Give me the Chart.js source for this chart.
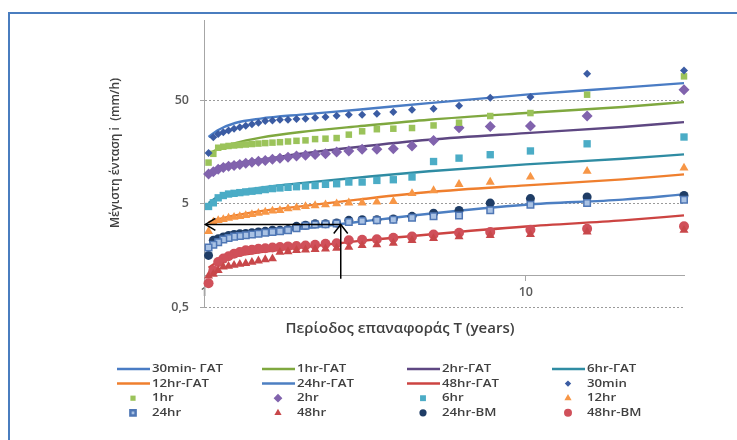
<!DOCTYPE html>
<html>
<head>
<meta charset="utf-8">
<script src="https://cdn.jsdelivr.net/npm/chart.js@4.4.1/dist/chart.umd.min.js"></script>
<style>
  html, body { margin: 0; padding: 0; background: #ffffff; }
  #wrap { position: relative; width: 737px; height: 440px; overflow: hidden; }
  #frame { position: absolute; left: 8px; top: 12px; width: 780px; height: 480px; border: 2px solid #4a7dbf; }
  #c { position: absolute; left: 0; top: 0; }
</style>
</head>
<body>
<div id="wrap">
  <div id="frame"></div>
  <canvas id="c" width="737" height="440"></canvas>
</div>
<script>
// Return periods T (years) of the ranked annual maxima, largest first
const returnPeriod = [31, 15.5, 10.333, 7.75, 6.2, 5.167, 4.429, 3.875, 3.444, 3.1,
  2.818, 2.583, 2.385, 2.214, 2.067, 1.938, 1.824, 1.722, 1.632, 1.55,
  1.476, 1.409, 1.348, 1.292, 1.24, 1.192, 1.148, 1.107, 1.069, 1.033];

// Observed maximum intensities (mm/h) for each duration
const i30min = [97.6, 90.7, 53.8, 53.0, 44.4, 41.6, 40.5, 38.5, 37.2, 36.4,
  36.4, 35.6, 34.5, 34.0, 33.2, 33.0, 32.5, 32.5, 32.0, 31.5,
  30.3, 29.3, 28.4, 27.5, 26.5, 25.6, 24.6, 23.6, 22.0, 15.5];
const i1hr = [85.4, 56.8, 37.7, 35.3, 30.4, 28.6, 27.0, 26.6, 26.3, 25.1,
  23.3, 21.6, 21.3, 21.1, 20.5, 20.3, 20.0, 19.7, 19.5, 19.3,
  19.1, 18.9, 18.7, 18.5, 18.3, 18.1, 17.8, 17.4, 15.2, 12.5];
const i2hr = [63.5, 35.3, 28.2, 28.0, 27.2, 20.5, 18.1, 17.0, 16.8, 16.8,
  16.2, 15.8, 15.2, 15.0, 14.7, 14.5, 14.1, 13.8, 13.5, 13.1,
  12.9, 12.6, 12.3, 12.0, 11.7, 11.5, 11.2, 10.8, 10.2, 9.7];
const i6hr = [22.1, 19.0, 16.2, 14.9, 13.8, 12.8, 9.06, 8.53, 8.4, 8.1,
  8.1, 7.8, 7.7, 7.5, 7.4, 7.3, 7.2, 7.1, 7.0, 6.85,
  6.7, 6.6, 6.5, 6.4, 6.3, 6.2, 6.0, 5.7, 5.1, 4.7];
const i12hr = [11.1, 10.3, 9.06, 8.1, 7.7, 6.7, 6.3, 5.27, 5.2, 5.1,
  5.1, 5.0, 4.9, 4.8, 4.7, 4.57, 4.47, 4.31, 4.25, 4.15,
  4.05, 3.94, 3.85, 3.77, 3.71, 3.63, 3.52, 3.45, 3.32, 2.7];
const i24hr = [5.47, 5.07, 4.89, 4.31, 3.85, 3.78, 3.65, 3.50, 3.45, 3.40,
  3.32, 3.22, 3.16, 3.14, 3.05, 2.90, 2.77, 2.70, 2.66, 2.62,
  2.56, 2.52, 2.48, 2.44, 2.40, 2.33, 2.25, 2.12, 2.0, 1.88];
const i48hr = [2.77, 2.66, 2.52, 2.46, 2.40, 2.31, 2.21, 2.07, 2.01, 1.97,
  1.90, 1.86, 1.83, 1.81, 1.79, 1.77, 1.72, 1.70, 1.47, 1.44,
  1.40, 1.36, 1.32, 1.30, 1.27, 1.24, 1.22, 1.13, 1.04, 1.00];
const i24hrBM = [6.0, 5.8, 5.6, 5.07, 4.3, 4.05, 3.77, 3.56, 3.50, 3.50,
  3.45, 3.26, 3.19, 3.19, 3.09, 3.02, 2.81, 2.77, 2.77, 2.70,
  2.66, 2.62, 2.58, 2.56, 2.52, 2.46, 2.38, 2.29, 2.21, 1.58];
const i48hrBM = [3.02, 2.86, 2.80, 2.66, 2.62, 2.52, 2.40, 2.34, 2.26, 2.24,
  2.21, 2.07, 2.05, 2.00, 1.97, 1.95, 1.93, 1.90, 1.88, 1.85,
  1.83, 1.79, 1.77, 1.70, 1.64, 1.55, 1.47, 1.36, 1.13, 0.85];

// Fitted ΓΑΤ curves, sampled along T
const fitT = [1.033, 1.1, 1.25, 1.5, 2, 3, 5, 10, 20, 31];
const fit30min = [22.1, 25.6, 30.2, 33.3, 36.4, 40.6, 47.0, 56.8, 66.4, 73.5];
const fit1hr = [15.2, 16.8, 19.3, 21.8, 24.7, 28.0, 32.5, 37.7, 43.1, 48.1];
const fit2hr = [9.8, 11.2, 12.3, 13.3, 15.2, 17.7, 20.8, 24.1, 27.6, 30.8];
const fit6hr = [5.07, 5.79, 6.48, 7.14, 7.91, 8.93, 10.3, 12.0, 13.6, 15.0];
const fit12hr = [3.3, 3.52, 3.85, 4.24, 4.71, 5.47, 6.48, 7.52, 8.6, 9.6];
const fit24hr = [1.90, 2.12, 2.41, 2.60, 2.86, 3.32, 4.0, 4.89, 5.47, 6.15];
const fit48hr = [1.20, 1.36, 1.55, 1.70, 1.88, 2.17, 2.52, 3.01, 3.45, 3.85];

// Axis ticks
const xTickValues = [1, 10];
const xTickLabels = ['1', '10'];
const yTickValues = [0.5, 5, 50];
const yTickLabels = ['0,5', '5', '50'];

// Guide arrows reading intensity for a given return period
const guideT = 2.66;
const guideI = 3.15;
const guideBaseI = 0.94;
const guideEndT = 1.01;

const xTitle = 'Περίοδος επαναφοράς T (years)';
const yTitle = 'Μέγιστη ένταση i  (mm/h)';

const FONT = '"Open Sans", "DejaVu Sans", sans-serif';
const TEXT = '#404040';
const pts = (xs, ys) => xs.map((x, k) => ({ x: x, y: ys[k] }));

function fitLine(label, ys, color) {
  return {
    label: label, data: pts(fitT, ys), showLine: true, borderColor: color,
    backgroundColor: color, borderWidth: 2.4, pointRadius: 0, pointHoverRadius: 0,
    cubicInterpolationMode: 'monotone', clip: false, order: 2, kind: 'line'
  };
}
function markers(label, ys, style, radius, fill, stroke, bw) {
  return {
    label: label, data: pts(returnPeriod, ys), showLine: false, pointStyle: style,
    pointRadius: radius, pointHoverRadius: radius, backgroundColor: fill,
    borderColor: stroke || fill, pointBorderWidth: bw || 0, borderWidth: bw || 0,
    clip: false, order: 1, kind: 'marker'
  };
}

const datasets = [
  fitLine('30min- ΓΑΤ', fit30min, '#4a7cc4'),
  fitLine('1hr-ΓΑΤ', fit1hr, '#7fa83f'),
  fitLine('2hr-ΓΑΤ', fit2hr, '#5e4782'),
  fitLine('6hr-ΓΑΤ', fit6hr, '#2f8ca3'),
  fitLine('12hr-ΓΑΤ', fit12hr, '#ef7f2e'),
  fitLine('24hr-ΓΑΤ', fit24hr, '#4d7fc2'),
  fitLine('48hr-ΓΑΤ', fit48hr, '#cc4442'),
  markers('30min', i30min, 'rectRot', 4, '#3b5ca3'),
  markers('1hr', i1hr, 'rect', 4.6, '#9bc35a'),
  markers('2hr', i2hr, 'rectRot', 5.5, '#8163ad'),
  markers('6hr', i6hr, 'rect', 5.2, '#4bacc6'),
  markers('12hr', i12hr, 'triangle', 5.2, '#f79646'),
  markers('24hr', i24hr, 'rect', 4.6, '#a9c2e4', '#4f77b5', 1.5),
  markers('48hr', i48hr, 'triangle', 5.2, '#c8474a'),
  markers('24hr-BM', i24hrBM, 'circle', 4.5, '#1f3d66'),
  markers('48hr-BM', i48hrBM, 'circle', 5, '#d0505a')
];

function arrowHead(ctx, tipX, tipY, dirX, dirY, len, half) {
  const bx = tipX - dirX * len, by = tipY - dirY * len;
  const nx = -dirY, ny = dirX;
  ctx.beginPath();
  ctx.moveTo(bx + nx * half, by + ny * half);
  ctx.lineTo(tipX, tipY);
  ctx.lineTo(bx - nx * half, by - ny * half);
  ctx.stroke();
}

const guideArrows = {
  id: 'guideArrows',
  afterDatasetsDraw(chart) {
    const { ctx, scales: { x, y } } = chart;
    const px = x.getPixelForValue(guideT);
    const py = y.getPixelForValue(guideI);
    const pyBase = y.getPixelForValue(guideBaseI);
    const pxEnd = x.getPixelForValue(guideEndT);
    ctx.save();
    ctx.strokeStyle = '#000000';
    ctx.lineWidth = 1.5;
    ctx.beginPath();
    ctx.moveTo(px, pyBase); ctx.lineTo(px, py);
    ctx.moveTo(px, py); ctx.lineTo(pxEnd, py);
    ctx.stroke();
    arrowHead(ctx, pxEnd, py, -1, 0, 10, 6);
    arrowHead(ctx, px, py, 0, -1, 9, 7);
    ctx.restore();
  }
};

// text drawn with a slight horizontal stretch
function wideText(ctx, str, x, y, sx) {
  ctx.save();
  ctx.translate(x, y);
  ctx.scale(sx, 1);
  ctx.fillText(str, 0, 0);
  ctx.restore();
}

const chartText = {
  id: 'chartText',
  afterDraw(chart) {
    const ctx = chart.ctx;
    ctx.save();
    ctx.fillStyle = TEXT;
    ctx.textBaseline = 'middle';
    ctx.textAlign = 'center';
    ctx.font = '600 14px ' + FONT;
    wideText(ctx, xTitle, 400, 329, 1.07);
    ctx.save();
    ctx.translate(116, 153);
    ctx.rotate(-Math.PI / 2);
    ctx.font = '600 12px ' + FONT;
    ctx.fillText(yTitle, 0, 0);
    ctx.restore();

    // legend: four columns, row-major in dataset order
    const colX = [117, 262, 407, 552];
    const rowY0 = 369, rowStep = 14.6;
    ctx.font = '600 11.5px ' + FONT;
    ctx.textAlign = 'left';
    chart.data.datasets.forEach((ds, k) => {
      const x0 = colX[k % 4];
      const yy = rowY0 + Math.floor(k / 4) * rowStep;
      if (ds.kind === 'line') {
        ctx.strokeStyle = ds.borderColor;
        ctx.lineWidth = 2.5;
        ctx.beginPath();
        ctx.moveTo(x0, yy); ctx.lineTo(x0 + 33, yy);
        ctx.stroke();
      } else {
        ctx.fillStyle = ds.backgroundColor;
        ctx.strokeStyle = ds.borderColor;
        Chart.helpers.drawPoint(ctx, {
          pointStyle: ds.pointStyle, rotation: 0,
          radius: ds.pointRadius * 0.8, borderWidth: ds.pointBorderWidth
        }, x0 + 16, yy);
      }
      ctx.fillStyle = TEXT;
      wideText(ctx, ds.label, x0 + 35, yy, 1.15);
    });
    ctx.restore();
  }
};

new Chart(document.getElementById('c'), {
  type: 'scatter',
  data: { datasets: datasets },
  options: {
    responsive: false,
    animation: false,
    devicePixelRatio: 1,
    layout: { padding: { left: 0, top: 20, right: 53, bottom: 133 } },
    plugins: { legend: { display: false }, tooltip: { enabled: false } },
    scales: {
      x: {
        type: 'logarithmic', min: 1, max: 31, position: { y: 1 },
        afterBuildTicks(scale) { scale.ticks = xTickValues.map(v => ({ value: v })); },
        grid: { drawOnChartArea: false, drawTicks: true, tickLength: 5, tickColor: '#a6a6a6' },
        border: { display: true, color: '#a6a6a6', width: 1 },
        ticks: {
          autoSkip: false, maxRotation: 0, padding: 4, color: '#595959',
          font: { family: FONT, size: 12.5, weight: '600' },
          callback: (v, k) => xTickLabels[k]
        }
      },
      y: {
        type: 'logarithmic', min: 0.5, max: 300, position: 'left',
        afterBuildTicks(scale) { scale.ticks = yTickValues.map(v => ({ value: v })); },
        afterFit(scale) { scale.width = 204; },
        grid: { color: '#9a9a9a', lineWidth: 1, drawTicks: true, tickLength: 4, tickColor: '#a6a6a6' },
        border: { display: true, color: '#a6a6a6', width: 1, dash: [2, 2] },
        ticks: {
          autoSkip: false, padding: 11, color: '#595959',
          font: { family: FONT, size: 12.5, weight: '600' },
          callback: (v, k) => yTickLabels[k]
        }
      }
    }
  },
  plugins: [guideArrows, chartText]
});
</script>
</body>
</html>
